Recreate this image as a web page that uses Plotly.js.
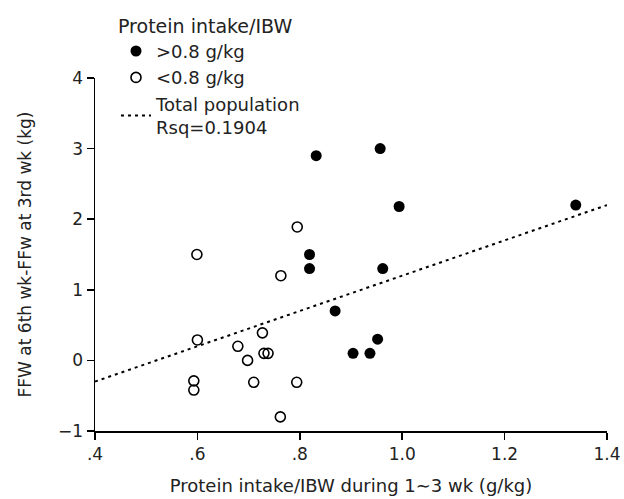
<!DOCTYPE html>
<html>
<head>
<meta charset="utf-8">
<script src="https://cdn.plot.ly/plotly-3.0.1.min.js"></script>
<style>html,body{margin:0;padding:0;background:#fff;}#chart{width:624px;height:499px;}</style>
</head>
<body>
<div id="chart"></div>
<script>
// High protein intake group (>0.8 g/kg)
const highX = [0.832, 0.957, 0.994, 1.339, 0.819, 0.819, 0.962, 0.869, 0.904, 0.937, 0.952];
const highY = [2.90, 3.00, 2.18, 2.20, 1.50, 1.30, 1.30, 0.70, 0.10, 0.10, 0.30];
// Low protein intake group (<0.8 g/kg)
const lowX = [0.795, 0.599, 0.763, 0.600, 0.727, 0.679, 0.730, 0.738, 0.698, 0.593, 0.593, 0.710, 0.794, 0.762];
const lowY = [1.89, 1.50, 1.20, 0.29, 0.39, 0.20, 0.10, 0.10, 0.00, -0.29, -0.42, -0.31, -0.31, -0.80];
// Regression line, total population
const fitX = [0.4, 1.4];
const fitY = [-0.30, 2.20];
// Axis tick labels
const xTickVals = [0.4, 0.6, 0.8, 1.0, 1.2, 1.4];
const xTickText = [".4", ".6", ".8", "1.0", "1.2", "1.4"];
const yTickVals = [4, 3, 2, 1, 0, -1];
const yTickText = ["4", "3", "2", "1", "0", "\u22121"];

const FONT = "DejaVu Sans, Verdana, sans-serif";
const TXT = "#222";

const traces = [
  {x: highX, y: highY, type: "scatter", mode: "markers", name: "&gt;0.8 g/kg",
   marker: {symbol: "circle", size: 11, color: "#000", line: {width: 0}}},
  {x: lowX, y: lowY, type: "scatter", mode: "markers", name: "&lt;0.8 g/kg",
   marker: {symbol: "circle-open", size: 10, color: "#000", line: {width: 1.6}}},
  {x: fitX, y: fitY, type: "scatter", mode: "lines", name: "Total population<br>Rsq=0.1904",
   line: {color: "#000", width: 2, dash: "3px,4px"}}
];

const layout = {
  width: 624, height: 499,
  margin: {l: 95, r: 17, t: 78, b: 68, autoexpand: false},
  paper_bgcolor: "#fff", plot_bgcolor: "#fff",
  font: {family: FONT, size: 17, color: TXT},
  showlegend: true,
  legend: {
    x: 0.041, y: 1.198, xanchor: "left", yanchor: "top",
    bgcolor: "rgba(0,0,0,0)",
    font: {family: FONT, size: 18, color: TXT},
    title: {text: "Protein intake/IBW", font: {family: FONT, size: 19, color: TXT}},
    tracegroupgap: 0
  },
  xaxis: {
    range: [0.4, 1.4], tickvals: xTickVals, ticktext: xTickText,
    showline: true, linecolor: "#000", linewidth: 1.5, mirror: false,
    showgrid: false, zeroline: false,
    ticks: "outside", ticklen: 7, tickwidth: 1.5, tickcolor: "#000",
    tickfont: {family: FONT, size: 17, color: TXT},
    title: {text: "Protein intake/IBW during 1\u223C3 wk (g/kg)", font: {family: FONT, size: 18, color: TXT}, standoff: 16}
  },
  yaxis: {
    range: [-1, 4], tickvals: yTickVals, ticktext: yTickText,
    showline: true, linecolor: "#000", linewidth: 1.5, mirror: false,
    showgrid: false, zeroline: false,
    ticks: "outside", ticklen: 7, tickwidth: 1.5, tickcolor: "#000",
    tickfont: {family: FONT, size: 17, color: TXT},
    title: {text: "FFW at 6th wk-FFw at 3rd wk (kg)", font: {family: FONT, size: 17, color: TXT}, standoff: 22}
  }
};

Plotly.newPlot("chart", traces, layout, {displayModeBar: false, staticPlot: true});
</script>
</body>
</html>
